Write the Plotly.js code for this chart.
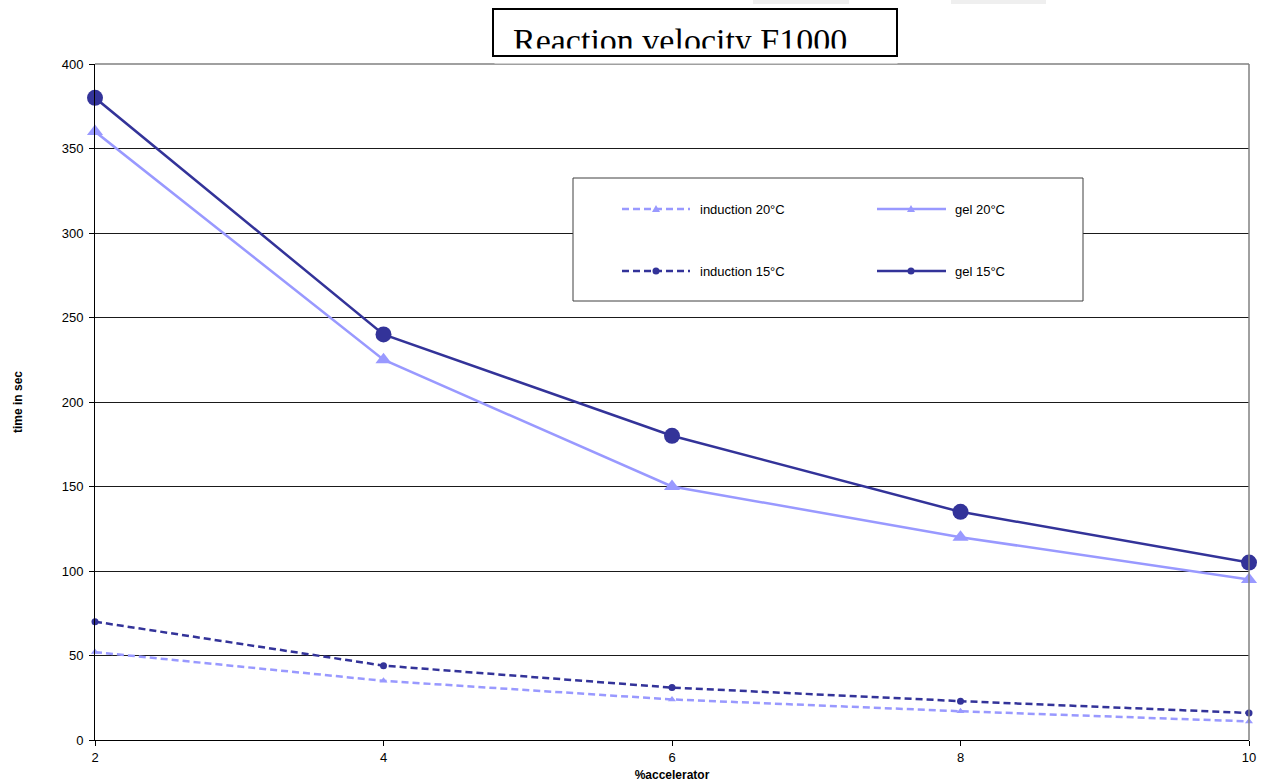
<!DOCTYPE html>
<html>
<head>
<meta charset="utf-8">
<script src="https://cdn.plot.ly/plotly-3.0.1.min.js"></script>
<style>
  html, body { margin: 0; padding: 0; background: #ffffff; }
  #chart { width: 1269px; height: 782px; }
</style>
</head>
<body>
<div id="chart"></div>
<script>
// ---- data ----
const accelerator = [2, 4, 6, 8, 10];
const induction20 = [52, 35, 24, 17, 11];
const gel20 = [360, 225, 150, 120, 95];
const induction15 = [70, 44, 31, 23, 16];
const gel15 = [380, 240, 180, 135, 105];
const seriesNames = ['induction 20°C', 'gel 20°C', 'induction 15°C', 'gel 15°C'];
const xTicks = [2, 4, 6, 8, 10];
const yTicks = [0, 50, 100, 150, 200, 250, 300, 350, 400];
const chartTitle = 'Reaction velocity F1000';
const xTitle = '%accelerator';
const yTitle = 'time in sec';

// ---- style ----
const LIGHT = '#9999FF';
const DARK = '#333399';
const FONT = 'Liberation Sans, Arial, sans-serif';

const series = [
  {y: induction20, name: seriesNames[0], color: LIGHT, dash: '7px,4px', symbol: 'triangle-up', size: 7},
  {y: gel20, name: seriesNames[1], color: LIGHT, dash: 'solid', symbol: 'triangle-up', size: 14},
  {y: induction15, name: seriesNames[2], color: DARK, dash: '7px,4px', symbol: 'circle', size: 7},
  {y: gel15, name: seriesNames[3], color: DARK, dash: 'solid', symbol: 'circle', size: 16}
];

const traces = series.map(s => ({
  type: 'scatter',
  mode: 'lines+markers',
  x: accelerator,
  y: s.y,
  name: s.name,
  cliponaxis: false,
  line: {color: s.color, width: 2.5, dash: s.dash},
  marker: {color: s.color, symbol: s.symbol, size: s.size},
  showlegend: false
}));

// plot-area pixel geometry -> paper coordinates
const L = 95, R = 1249, T = 64, B = 740;
const px = x => (x - L) / (R - L);
const py = y => (B - y) / (B - T);

const shapes = [];
const annotations = [];

// faint gray blocks at top edge
[[753, 849], [951, 1046]].forEach(([a, b]) => shapes.push({
  type: 'rect', xref: 'paper', yref: 'paper', x0: px(a), x1: px(b), y0: py(4), y1: py(0),
  line: {width: 0}, fillcolor: '#efefef', layer: 'above'
}));

// plot frame (top & right gray)
shapes.push({type: 'line', xref: 'paper', yref: 'paper', x0: 0, x1: 1, y0: 1, y1: 1,
  line: {color: '#808080', width: 1.5}, layer: 'above'});
shapes.push({type: 'line', xref: 'paper', yref: 'paper', x0: 1, x1: 1, y0: 0, y1: 1,
  line: {color: '#808080', width: 1.5}, layer: 'above'});

// legend box
shapes.push({type: 'rect', xref: 'paper', yref: 'paper', x0: px(573), x1: px(1083), y0: py(301), y1: py(178),
  line: {color: '#404040', width: 1}, fillcolor: '#ffffff', layer: 'above'});

// legend entries
const rows = [209, 271];
const cols = [{l0: 622, l1: 690, m: 656, t: 698}, {l0: 877, l1: 946, m: 911, t: 953}];
series.forEach((s, i) => {
  const r = rows[Math.floor(i / 2)];
  const c = cols[i % 2];
  shapes.push({type: 'line', xref: 'paper', yref: 'paper', x0: px(c.l0), x1: px(c.l1), y0: py(r), y1: py(r),
    line: {color: s.color, width: 2.5, dash: s.dash}, layer: 'above'});
  if (s.symbol === 'circle') {
    shapes.push({type: 'circle', xref: 'paper', yref: 'paper', xsizemode: 'pixel', ysizemode: 'pixel',
      xanchor: px(c.m), yanchor: py(r), x0: -3.5, x1: 3.5, y0: -3.5, y1: 3.5,
      line: {color: s.color, width: 0}, fillcolor: s.color, layer: 'above'});
  } else {
    shapes.push({type: 'path', xref: 'paper', yref: 'paper', xsizemode: 'pixel', ysizemode: 'pixel',
      xanchor: px(c.m), yanchor: py(r), path: 'M -4 -3 L 4 -3 L 0 4 Z',
      line: {color: s.color, width: 0}, fillcolor: s.color, layer: 'above'});
  }
  annotations.push({xref: 'paper', yref: 'paper', x: px(c.t), y: py(r), xanchor: 'left', yanchor: 'middle',
    text: s.name, showarrow: false, font: {family: FONT, size: 13, color: '#000000'}});
});

// title text (clipped look) + white cover for descenders + framing box on top
annotations.push({xref: 'paper', yref: 'paper', x: px(512), y: py(60), xanchor: 'left', yanchor: 'bottom',
  text: chartTitle, showarrow: false, borderpad: 0,
  font: {family: 'Liberation Serif, Times New Roman, serif', size: 34, color: '#000000'}});
annotations.push({xref: 'paper', yref: 'paper', x: px(494), y: py(48), xanchor: 'left', yanchor: 'top',
  text: ' ', showarrow: false, width: 402, height: 14, borderpad: 0, bgcolor: '#ffffff'});
annotations.push({xref: 'paper', yref: 'paper', x: px(492), y: py(8), xanchor: 'left', yanchor: 'top',
  text: ' ', showarrow: false, width: 402, height: 45, borderpad: 0, borderwidth: 2,
  bordercolor: '#000000', bgcolor: 'rgba(0,0,0,0)'});

const layout = {
  width: 1269, height: 782,
  margin: {l: L, r: 1269 - R, t: T, b: 782 - B},
  paper_bgcolor: '#ffffff', plot_bgcolor: '#ffffff',
  font: {family: FONT, size: 13, color: '#000000'},
  showlegend: false,
  xaxis: {
    range: [2, 10], tickvals: xTicks, ticktext: xTicks.map(String),
    showgrid: false, zeroline: false, showline: true, linecolor: '#000000', linewidth: 1,
    ticks: 'outside', ticklen: 5, tickcolor: '#000000',
    tickfont: {family: FONT, size: 13, color: '#000000'},
    title: {text: '<b>' + xTitle + '</b>', font: {family: FONT, size: 12, color: '#000000'}, standoff: 7}
  },
  yaxis: {
    range: [0, 400], tickvals: yTicks, ticktext: yTicks.map(String),
    showgrid: true, gridcolor: '#1a1a1a', gridwidth: 1, zeroline: false,
    showline: true, linecolor: '#000000', linewidth: 1,
    ticks: 'outside', ticklen: 5, tickcolor: '#000000', ticklabelstandoff: 3,
    tickfont: {family: FONT, size: 13, color: '#000000'},
    title: {text: '<b>' + yTitle + '</b>', font: {family: FONT, size: 12, color: '#000000'}, standoff: 36}
  },
  shapes: shapes,
  annotations: annotations
};

Plotly.newPlot('chart', traces, layout, {staticPlot: true, displayModeBar: false});
</script>
</body>
</html>
